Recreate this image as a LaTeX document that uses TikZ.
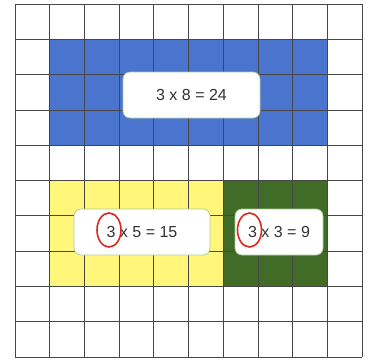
\documentclass[tikz,border=0pt]{standalone}
\usepackage{fontspec}
\setmainfont{Liberation Sans}
\usetikzlibrary{shapes.geometric}
\definecolor{cblue}{RGB}{74,116,206}
\definecolor{cyellow}{RGB}{255,246,122}
\definecolor{cgreen}{RGB}{64,108,40}
\definecolor{cgrid}{RGB}{70,70,70}
\definecolor{cboxline}{RGB}{170,205,150}
\definecolor{ctext}{RGB}{50,50,50}
\definecolor{cred}{RGB}{220,40,30}
\tikzset{
  gridline/.style={draw=cgrid, line width=0.8pt},
  eqbox/.style={draw=cboxline, line width=0.7pt, fill=white, rounded corners=7pt,
    minimum height=46pt, inner sep=0pt, text=ctext, font=\fontsize{16}{18}\selectfont},
  ring/.style={ellipse, draw=cred, line width=1.6pt, minimum width=24pt, minimum height=34pt, inner sep=0pt}
}
\begin{document}
\begin{tikzpicture}[x=1pt,y=-1pt]
\useasboundingbox (0,0) rectangle (369,359);
\fill[white] (0,0) rectangle (369,359);
% colored areas
\fill[cblue] (49.7,39.3) rectangle (327.3,145.2);
\fill[cyellow] (49.7,180.5) rectangle (223.2,286.4);
\fill[cgreen] (223.2,180.5) rectangle (327.3,286.4);
% grid
\foreach \i in {0,...,10} {
  \draw[gridline] (15+\i*34.7,4) -- (15+\i*34.7,357);
  \draw[gridline] (15,4+\i*35.3) -- (362,4+\i*35.3);
}
% equation boxes
\node[eqbox, minimum width=137pt] (b1) at (191.5,95) {3 x 8 = 24};
\node[eqbox, minimum width=136pt] (b2) at (142,232) {3 x 5 = 15};
\node[eqbox, minimum width=88pt] (b3) at (279,232) {3 x 3 = 9};
% red rings
\node[ring] (r1) at (109,230) {};
\node[ring] (r2) at (249.5,230) {};
\end{tikzpicture}
\end{document}
